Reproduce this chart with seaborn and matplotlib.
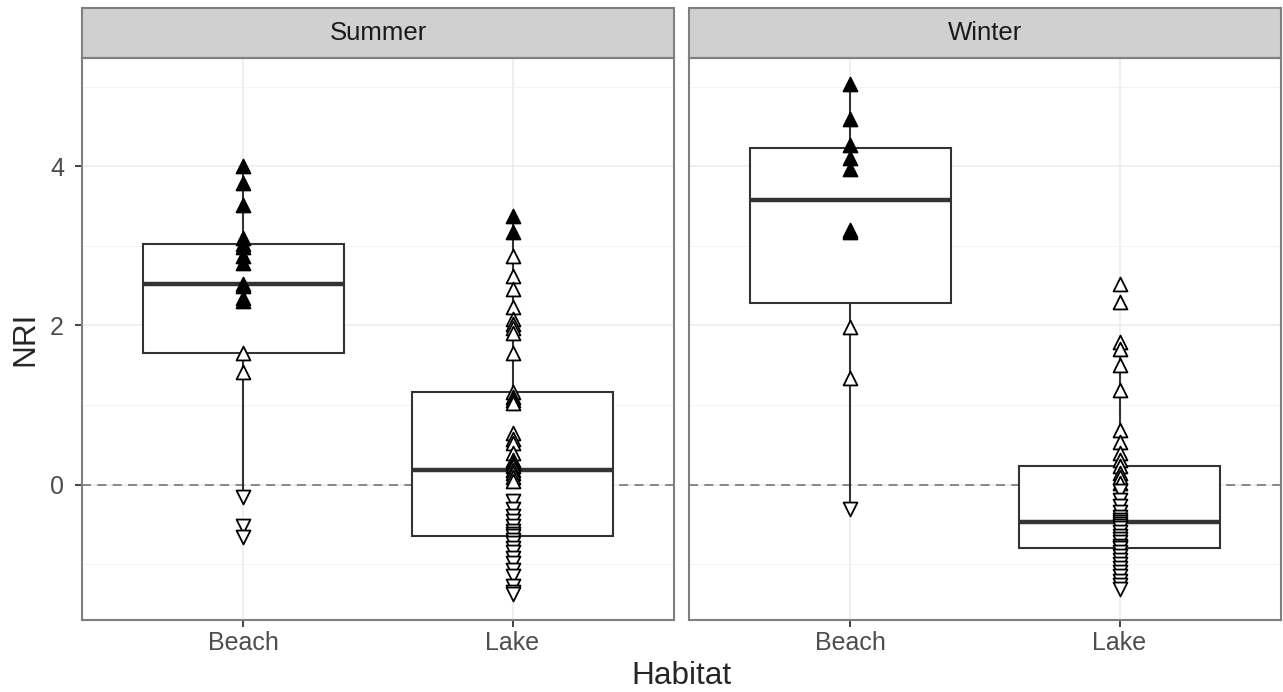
import numpy as np
import pandas as pd
import matplotlib.pyplot as plt
from matplotlib.patches import Rectangle
from matplotlib.ticker import MultipleLocator
import seaborn as sns

# NRI values, split by marker type
# sig = filled up-triangle, pos = open up-triangle, neg = open down-triangle
summer_beach_sig = [2.31, 2.35, 2.50, 2.525, 2.79, 2.875, 2.98, 3.03, 3.10, 3.52, 3.79, 4.00]
summer_beach_pos = [1.41, 1.65]
summer_beach_neg = [-0.15, -0.52, -0.66]

summer_lake_sig = [3.17, 3.375]
summer_lake_pos = [2.875, 2.625, 2.46, 2.23, 2.08, 2.02, 1.97, 1.90, 1.65, 1.17, 1.10, 1.06,
                   1.03, 0.65, 0.57, 0.52, 0.40, 0.31, 0.27, 0.23, 0.18, 0.15, 0.10, 0.04]
summer_lake_neg = [-0.21, -0.30, -0.40, -0.46, -0.52, -0.58, -0.62, -0.65, -0.70, -0.73,
                   -0.80, -0.85, -0.92, -0.98, -1.07, -1.15, -1.27, -1.35, -1.38]

winter_beach_sig = [5.04, 4.59, 4.27, 4.10, 3.96, 3.20, 3.17]
winter_beach_pos = [1.98, 1.34]
winter_beach_neg = [-0.31]

winter_lake_sig = []
winter_lake_pos = [2.52, 2.29, 1.79, 1.71, 1.50, 1.19, 0.69, 0.54, 0.40, 0.31, 0.24, 0.15, 0.10, 0.02]
winter_lake_neg = [-0.08, -0.19, -0.27, -0.35, -0.41, -0.45, -0.475, -0.50, -0.52, -0.55,
                   -0.60, -0.65, -0.68, -0.72, -0.77, -0.79, -0.80, -0.85, -0.90, -0.95,
                   -1.00, -1.05, -1.10, -1.15, -1.21, -1.26, -1.31]

seasons = ["Summer", "Winter"]
habitats = ["Beach", "Lake"]

groups = {
    ("Summer", "Beach"): (summer_beach_sig, summer_beach_pos, summer_beach_neg),
    ("Summer", "Lake"): (summer_lake_sig, summer_lake_pos, summer_lake_neg),
    ("Winter", "Beach"): (winter_beach_sig, winter_beach_pos, winter_beach_neg),
    ("Winter", "Lake"): (winter_lake_sig, winter_lake_pos, winter_lake_neg),
}

rows = []
for (season, hab), (sig, pos, neg) in groups.items():
    for kind, vals in zip(["sig", "pos", "neg"], [sig, pos, neg]):
        for v in vals:
            rows.append((season, hab, kind, v))
df = pd.DataFrame(rows, columns=["Season", "Habitat", "Type", "NRI"])

sns.set_theme(style="white")
plt.rcParams["font.family"] = ["Liberation Sans", "DejaVu Sans"]

fig, axes = plt.subplots(1, 2, sharey=True, figsize=(12.83, 6.92), dpi=100)
fig.subplots_adjust(left=82/1283, right=1281/1283, bottom=72/692, top=634/692, wspace=15/592)

styles = {
    "sig": dict(marker="^", color="black"),
    "pos": dict(marker="^", color="white"),
    "neg": dict(marker="v", color="white"),
}

rng = df["NRI"].max() - df["NRI"].min()
ylo, yhi = df["NRI"].min() - 0.05*rng, df["NRI"].max() + 0.05*rng

for ax, season in zip(axes, seasons):
    sub = df[df["Season"] == season]
    ax.axhline(0, color="#808080", lw=1.3, ls=(0, (5, 3.5)), zorder=1.5)
    sns.boxplot(data=sub, x="Habitat", y="NRI", order=habitats, width=0.75,
                color="white", linecolor="#333333", linewidth=1.5, showfliers=False,
                showcaps=False, whis=1.5, medianprops=dict(linewidth=3.2, color="#333333"),
                ax=ax)
    for kind, st in styles.items():
        pts = sub[sub["Type"] == kind]
        if len(pts) == 0:
            continue
        sns.stripplot(data=pts, x="Habitat", y="NRI", order=habitats, jitter=False,
                      marker=st["marker"], color=st["color"], edgecolor="black",
                      linewidth=1.3, size=10, zorder=3, ax=ax)

    ax.set_xlim(-0.6, 1.6)
    ax.set_ylim(ylo, yhi)
    ax.yaxis.set_major_locator(MultipleLocator(2))
    ax.yaxis.set_minor_locator(MultipleLocator(1))
    ax.set_axisbelow(True)
    ax.grid(which="major", color="#ebebeb", lw=1.1)
    ax.grid(which="minor", axis="y", color="#f3f3f3", lw=0.7)
    ax.set_xlabel("")
    ax.set_ylabel("")
    ax.tick_params(which="major", length=5, width=1.3, color="#333333",
                   labelsize=18, labelcolor="#4d4d4d", bottom=True, left=(ax is axes[0]))
    ax.tick_params(axis="x", pad=3)
    ax.tick_params(axis="y", pad=8)
    ax.tick_params(which="minor", length=0)
    for sp in ax.spines.values():
        sp.set_color("#7f7f7f")
        sp.set_linewidth(1.5)
        sp.set_visible(True)

    # facet strip
    h = 50 / 562
    ax.add_patch(Rectangle((0, 1), 1, h, transform=ax.transAxes, clip_on=False,
                           facecolor="#d0d0d0", edgecolor="#7f7f7f", lw=1.5))
    ax.text(0.5, 1 + h/2, season, transform=ax.transAxes, ha="center", va="center",
            fontsize=18.5, color="#1a1a1a")

fig.text(681/1283, 1 - 676/692, "Habitat", ha="center", va="center", fontsize=22.7)
fig.text(25/1283, 1 - 339/692, "NRI", ha="center", va="center", rotation=90, fontsize=22.7)

plt.savefig("out.png", dpi=100)
